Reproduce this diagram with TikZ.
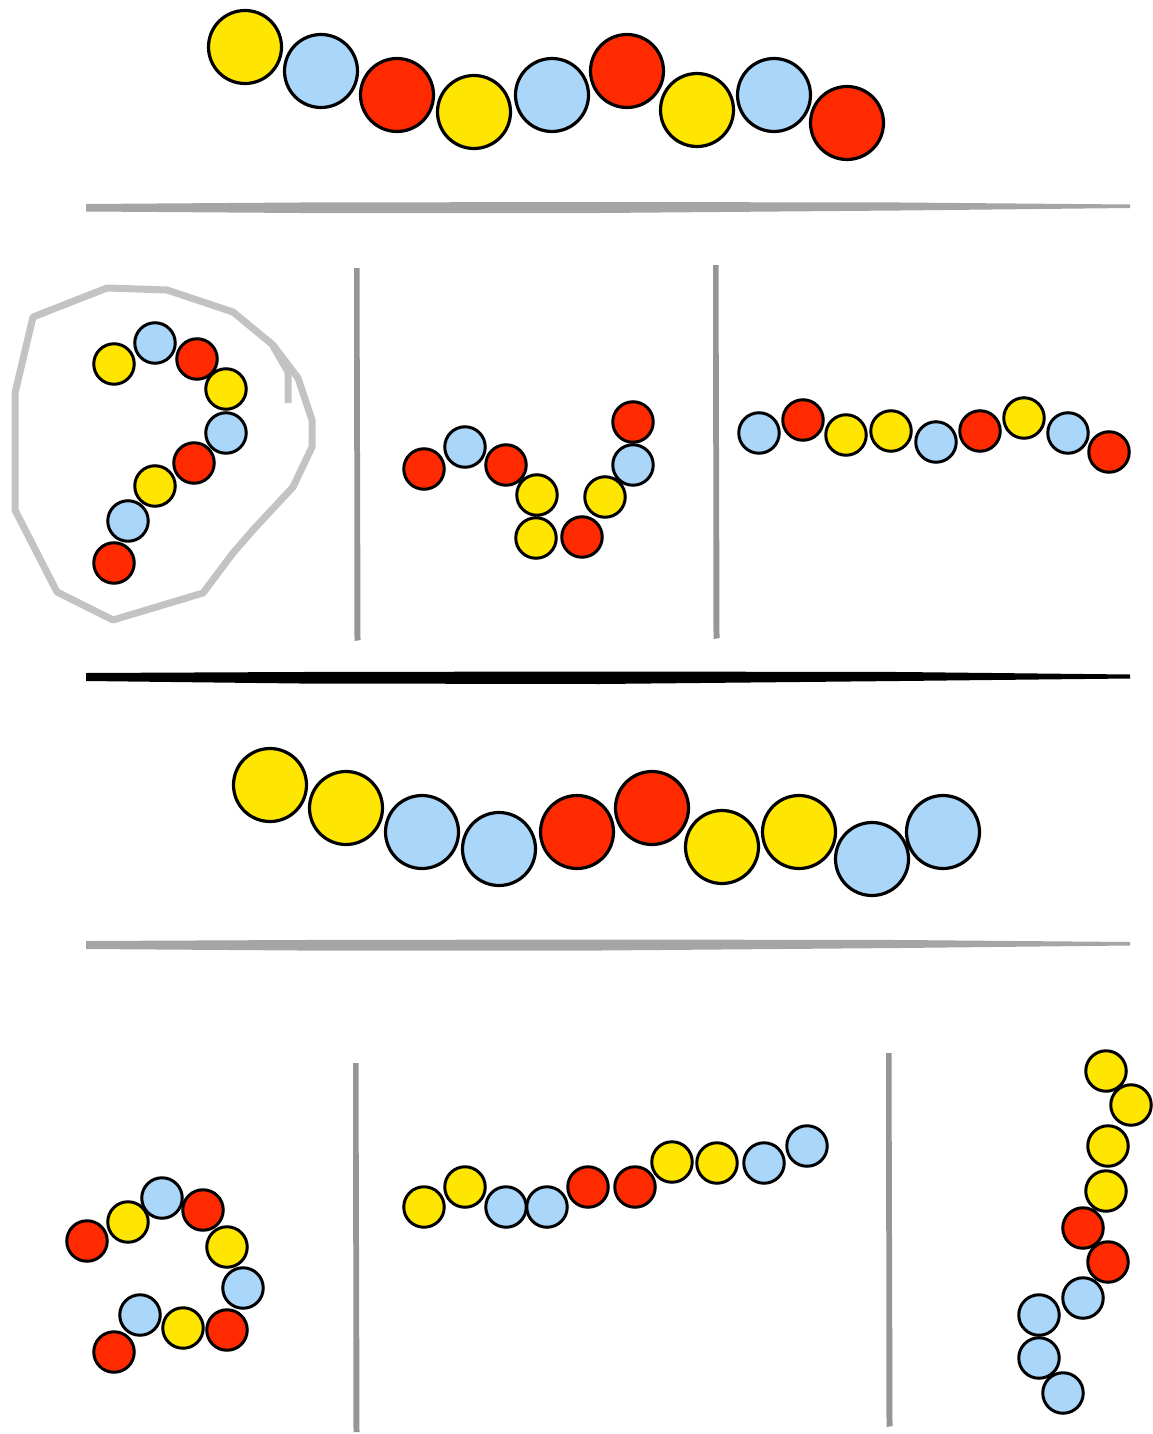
\documentclass[tikz,border=0pt]{standalone}
\definecolor{cY}{RGB}{255,230,0}
\definecolor{cB}{RGB}{170,214,250}
\definecolor{cR}{RGB}{255,42,0}
\definecolor{gline}{RGB}{165,165,165}
\definecolor{gdiv}{RGB}{150,150,150}
\definecolor{gloop}{RGB}{195,195,195}
\tikzset{
  bead/.style={circle, draw=black, inner sep=0pt},
  big/.style={bead, line width=3.2pt, minimum size=73pt},
  sm/.style={bead, line width=3pt, minimum size=40.5pt},
  Y/.style={fill=cY}, B/.style={fill=cB}, R/.style={fill=cR},
  rule/.style={fill=gline},
  darkrule/.style={fill=black},
  divider/.style={fill=gdiv},
  loop/.style={draw=gloop, line width=7pt, line join=round, line cap=round}
}
\begin{document}
\begin{tikzpicture}[x=1pt,y=-1pt]
\useasboundingbox[fill=white] (0,0) rectangle (1152,1434);

% ---- row 1 : big chain
\node[big,Y] (t1) at (245,47) {};
\node[big,B] (t2) at (321,71) {};
\node[big,R] (t3) at (397,95) {};
\node[big,Y] (t4) at (474,112) {};
\node[big,B] (t5) at (552,95) {};
\node[big,R] (t6) at (627,71) {};
\node[big,Y] (t7) at (697,110) {};
\node[big,B] (t8) at (774,95) {};
\node[big,R] (t9) at (847,123) {};

% ---- rule 1
\fill[rule] (86,204) -- (300,202.5) -- (600,202) -- (900,202.5) -- (1130,204.5)
  -- (1130,208) -- (900,210.5) -- (600,213) -- (300,213) -- (86,211.5) -- cycle;

% ---- row 2 dividers
\fill[divider] (354,268) -- (359.5,268) -- (360.5,640) -- (354.5,641) -- cycle;
\fill[divider] (713,265) -- (718.5,265) -- (719.5,638) -- (713.5,639) -- cycle;

% ---- row 2 left: enclosing loop
\draw[loop] (33,317) -- (107,288) -- (167,290) -- (233,312) -- (273,345)
  -- (298,378) -- (312,420) -- (312,447) -- (293,487) -- (253,530)
  -- (233,553) -- (203,593) -- (113,620) -- (57,592) -- (15,510)
  -- (15,393) -- cycle;
\draw[loop, line cap=butt] (273,346) -- (288,372) -- (288,403);

\node[sm,Y] (a1) at (114,364) {};
\node[sm,B] (a2) at (155,343) {};
\node[sm,R] (a3) at (197,359) {};
\node[sm,Y] (a4) at (226,389) {};
\node[sm,B] (a5) at (226,433) {};
\node[sm,R] (a6) at (194,463) {};
\node[sm,Y] (a7) at (155,486) {};
\node[sm,B] (a8) at (128,521) {};
\node[sm,R] (a9) at (114,563) {};

% ---- row 2 middle
\node[sm,R] (b1) at (424,469) {};
\node[sm,B] (b2) at (465,447) {};
\node[sm,R] (b3) at (506,465) {};
\node[sm,Y] (b4) at (537,495) {};
\node[sm,Y] (b5) at (536,538) {};
\node[sm,R] (b6) at (582,537) {};
\node[sm,Y] (b7) at (605,497) {};
\node[sm,B] (b8) at (633,465) {};
\node[sm,R] (b9) at (633,422) {};

% ---- row 2 right
\node[sm,B] (c1) at (759,433) {};
\node[sm,R] (c2) at (803,420) {};
\node[sm,Y] (c3) at (846,435) {};
\node[sm,Y] (c4) at (891,431) {};
\node[sm,B] (c5) at (936,442) {};
\node[sm,R] (c6) at (980,431) {};
\node[sm,Y] (c7) at (1024,418) {};
\node[sm,B] (c8) at (1068,433) {};
\node[sm,R] (c9) at (1109,452) {};

% ---- rule 2 (black)
\fill[darkrule] (86,673) -- (300,672) -- (600,671.5) -- (900,672) -- (1130,674.5)
  -- (1130,678.5) -- (900,681) -- (600,684) -- (300,683.5) -- (86,681) -- cycle;

% ---- row 3 : big chain
\node[big,Y] (m1) at (270,785) {};
\node[big,Y] (m2) at (346,808) {};
\node[big,B] (m3) at (422,832) {};
\node[big,B] (m4) at (499,849) {};
\node[big,R] (m5) at (577,832) {};
\node[big,R] (m6) at (652,808) {};
\node[big,Y] (m7) at (722,847) {};
\node[big,Y] (m8) at (799,832) {};
\node[big,B] (m9) at (872,859) {};
\node[big,B] (m10) at (943,832) {};

% ---- rule 3
\fill[rule] (86,941) -- (300,940) -- (600,939.5) -- (900,940) -- (1130,942)
  -- (1130,945.5) -- (900,948) -- (600,950.5) -- (300,950.5) -- (86,949) -- cycle;

% ---- row 4 dividers
\fill[divider] (353,1063) -- (358.5,1063) -- (359.5,1432) -- (353.5,1432) -- cycle;
\fill[divider] (886,1053) -- (891.5,1053) -- (892.5,1426) -- (886.5,1427) -- cycle;

% ---- row 4 left
\node[sm,R] (d1) at (87,1241) {};
\node[sm,Y] (d2) at (128,1222) {};
\node[sm,B] (d3) at (162,1198) {};
\node[sm,R] (d4) at (203,1210) {};
\node[sm,Y] (d5) at (227,1247) {};
\node[sm,B] (d6) at (243,1288) {};
\node[sm,R] (d7) at (227,1330) {};
\node[sm,Y] (d8) at (183,1328) {};
\node[sm,B] (d9) at (140,1315) {};
\node[sm,R] (d10) at (114,1352) {};

% ---- row 4 middle
\node[sm,Y] (e1) at (424,1207) {};
\node[sm,Y] (e2) at (465,1187) {};
\node[sm,B] (e3) at (506,1207) {};
\node[sm,B] (e4) at (547,1207) {};
\node[sm,R] (e5) at (588,1187) {};
\node[sm,R] (e6) at (635,1187) {};
\node[sm,Y] (e7) at (672,1162) {};
\node[sm,Y] (e8) at (717,1163) {};
\node[sm,B] (e9) at (764,1163) {};
\node[sm,B] (e10) at (807,1146) {};

% ---- row 4 right
\node[sm,Y] (f1) at (1106,1071) {};
\node[sm,Y] (f2) at (1131,1105) {};
\node[sm,Y] (f3) at (1108,1146) {};
\node[sm,Y] (f4) at (1106,1191) {};
\node[sm,R] (f5) at (1083,1228) {};
\node[sm,R] (f6) at (1108,1262) {};
\node[sm,B] (f7) at (1083,1298) {};
\node[sm,B] (f8) at (1039,1315) {};
\node[sm,B] (f9) at (1039,1358) {};
\node[sm,B] (f10) at (1063,1393) {};
\end{tikzpicture}
\end{document}
